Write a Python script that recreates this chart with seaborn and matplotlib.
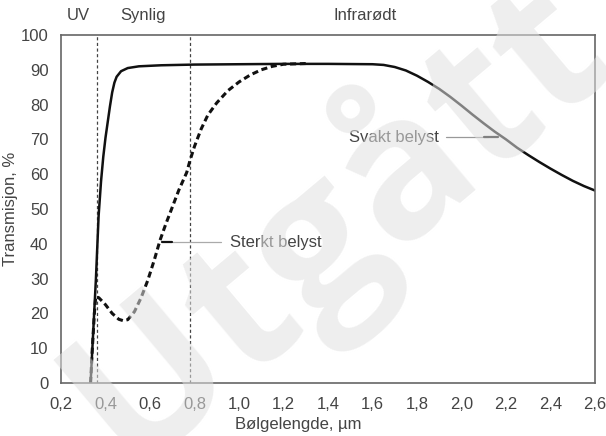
import matplotlib
matplotlib.use("Agg")
import matplotlib.pyplot as plt
import seaborn as sns
import pandas as pd
from matplotlib import font_manager

# ---------------- data ----------------
svakt_x = [0.333, 0.345, 0.357, 0.369, 0.38, 0.39, 0.40, 0.41, 0.42, 0.43, 0.44,
           0.45, 0.47, 0.50, 0.55, 0.65, 0.80, 1.00, 1.20, 1.40, 1.60, 1.65,
           1.70, 1.75, 1.80, 1.85, 1.90, 1.95, 2.00, 2.05, 2.10, 2.15, 2.20,
           2.25, 2.30, 2.35, 2.40, 2.45, 2.50, 2.55, 2.60]
svakt_y = [0.0, 15.0, 30.0, 48.0, 58.0, 65.0, 70.5, 75.0, 79.5, 83.5, 86.3,
           88.0, 89.6, 90.5, 91.0, 91.3, 91.5, 91.6, 91.7, 91.7, 91.6, 91.4,
           90.8, 89.8, 88.3, 86.5, 84.5, 82.2, 79.7, 77.1, 74.6, 72.2, 70.0,
           67.6, 65.5, 63.5, 61.6, 59.8, 58.1, 56.6, 55.3]

sterkt_x = [0.333, 0.34, 0.35, 0.356, 0.37, 0.40, 0.43, 0.46, 0.48, 0.50, 0.53,
            0.56, 0.59, 0.62, 0.645, 0.67, 0.70, 0.73, 0.765, 0.78, 0.80, 0.83,
            0.86, 0.90, 0.95, 1.00, 1.05, 1.10, 1.15, 1.20, 1.30]
sterkt_y = [0.0, 9.0, 20.0, 24.8, 24.5, 22.5, 20.0, 18.3, 17.9, 18.2, 20.5,
            24.5, 29.5, 35.5, 41.0, 45.5, 50.5, 55.5, 60.5, 64.0, 68.0, 73.0,
            77.0, 80.5, 84.0, 86.5, 88.5, 90.0, 91.0, 91.6, 91.8]

uv_grense = 0.36
synlig_grense = 0.78

x_ticks = [0.2, 0.4, 0.6, 0.8, 1.0, 1.2, 1.4, 1.6, 1.8, 2.0, 2.2, 2.4, 2.6]
x_tick_labels = ["0,2", "0,4", "0,6", "0,8", "1,0", "1,2", "1,4", "1,6", "1,8",
                 "2,0", "2,2", "2,4", "2,6"]
y_ticks = [0, 10, 20, 30, 40, 50, 60, 70, 80, 90, 100]

region_labels = ["UV", "Synlig", "Infrarødt"]
region_pos = [0.276, 0.57, 1.565]

df = pd.concat([
    pd.DataFrame({"x": svakt_x, "y": svakt_y, "serie": "Svakt belyst"}),
    pd.DataFrame({"x": sterkt_x, "y": sterkt_y, "serie": "Sterkt belyst"}),
])

# ---------------- style ----------------
sns.set_theme(style="white")
avail = {f.name for f in font_manager.fontManager.ttflist}
fam = [f for f in ["Liberation Sans", "DejaVu Sans"] if f in avail] or ["DejaVu Sans"]
plt.rcParams["font.family"] = fam + ["DejaVu Sans"]
wm_font = [f for f in ["Open Sans", "Lato", "DejaVu Sans"] if f in avail][:1] + ["DejaVu Sans"]

txt = "#444444"
spine_c = "#666666"

fig = plt.figure(figsize=(6.06, 4.36), dpi=100)
ax = fig.add_axes([61/606, 1-383/436, (595-61)/606, (383-35)/436])

sns.lineplot(data=df[df.serie == "Svakt belyst"], x="x", y="y", ax=ax,
             color="#111111", lw=1.8, sort=False, legend=False)
sns.lineplot(data=df[df.serie == "Sterkt belyst"], x="x", y="y", ax=ax,
             color="#111111", lw=2.2, sort=False, legend=False,
             linestyle=(0, (2.0, 1.2)))

for b in [uv_grense, synlig_grense]:
    ax.axvline(b, color="#444444", lw=0.9, linestyle=(0, (2.5, 2.0)), zorder=1)

ax.set_xlim(0.2, 2.6)
ax.set_ylim(0, 100)
ax.set_xticks(x_ticks)
ax.set_xticklabels(x_tick_labels)
ax.set_yticks(y_ticks)

for s in ax.spines.values():
    s.set_color(spine_c)
    s.set_linewidth(1.2)
    s.set_visible(True)
ax.tick_params(axis="both", direction="out", length=5, width=1.2, color=spine_c,
               labelsize=12, labelcolor=txt, pad=4)
ax.tick_params(axis="x", pad=5)

ax.set_xlabel("Bølgelengde, µm", fontsize=12, color=txt)
ax.xaxis.set_label_coords((298-61)/534, -0.098)
ax.set_ylabel("Transmisjon, %", fontsize=12, color=txt)
ax.yaxis.set_label_coords(-0.08, 0.5)

for lab, xp in zip(region_labels, region_pos):
    ax.text(xp, 105.5, lab, ha="center", va="center", fontsize=12, color=txt,
            clip_on=False)

# annotations
ax.text(0.96, 40.5, "Sterkt belyst", ha="left", va="center", fontsize=12, color=txt)
ax.plot([0.70, 0.92], [40.5, 40.5], color="#aaaaaa", lw=0.9)
ax.plot([0.655, 0.70], [40.5, 40.5], color="#111111", lw=1.6)

ax.text(1.494, 70.6, "Svakt belyst", ha="left", va="center", fontsize=12, color=txt)
ax.plot([1.93, 2.12], [70.6, 70.6], color="#999999", lw=0.9)
ax.plot([2.10, 2.165], [70.6, 70.6], color="#111111", lw=1.6)

# watermark
fig.text(0.55, 0.50, "Utgått", fontsize=142, fontweight="bold", color="#e0e0e0",
         alpha=0.55, rotation=40, ha="center", va="center", zorder=10,
         family=wm_font)

fig.savefig("out.png", dpi=100)
